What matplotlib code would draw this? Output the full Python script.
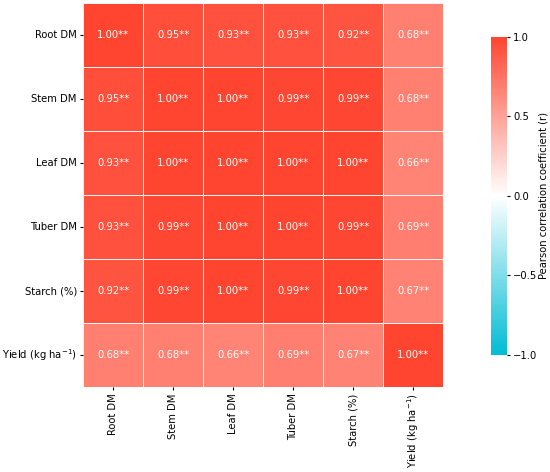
import numpy as np
import pandas as pd
import matplotlib
matplotlib.use("Agg")
import matplotlib.pyplot as plt
import seaborn as sns
from matplotlib.colors import LinearSegmentedColormap

labels = ['Root DM', 'Stem DM', 'Leaf DM', 'Tuber DM', 'Starch (%)', r'Yield (kg ha$^{-1}$)']
root_dm = [1.00, 0.95, 0.93, 0.93, 0.92, 0.68]
stem_dm = [0.95, 1.00, 1.00, 0.99, 0.99, 0.68]
leaf_dm = [0.93, 1.00, 1.00, 1.00, 1.00, 0.66]
tuber_dm = [0.93, 0.99, 1.00, 1.00, 0.99, 0.69]
starch = [0.92, 0.99, 1.00, 0.99, 1.00, 0.67]
yield_kg = [0.68, 0.68, 0.66, 0.69, 0.67, 1.00]

corr = pd.DataFrame([root_dm, stem_dm, leaf_dm, tuber_dm, starch, yield_kg],
                    index=labels, columns=labels)
annot = corr.map(lambda v: f'{v:.2f}**')

cmap = LinearSegmentedColormap.from_list('cw_r', ['#00bcd4', '#ffffff', '#ff4530'])

fs = 7.2
fig = plt.figure(figsize=(5.5, 4.72), dpi=100)
ax = fig.add_axes([0.151, 0.18, 0.655, 0.813])
cax = fig.add_axes([0.893, 0.248, 0.029, 0.674])
sns.heatmap(corr, ax=ax, cbar_ax=cax, cmap=cmap, vmin=-1, vmax=1,
            annot=annot, fmt='', annot_kws={'size': fs, 'color': 'white'},
            linewidths=0.5, linecolor='#f4f4f4',
            cbar_kws={'ticks': [-1, -0.5, 0, 0.5, 1]})
ax.tick_params(axis='both', labelsize=fs, length=2.5, pad=2)
plt.setp(ax.get_xticklabels(), rotation=90)
plt.setp(ax.get_yticklabels(), rotation=0)
cax.tick_params(labelsize=fs, length=2.5, pad=2)
cax.set_ylabel('Pearson correlation coefficient (r)', fontsize=fs, labelpad=0.5)
for s in cax.spines.values():
    s.set_visible(False)

fig.savefig('out.png', dpi=100)
